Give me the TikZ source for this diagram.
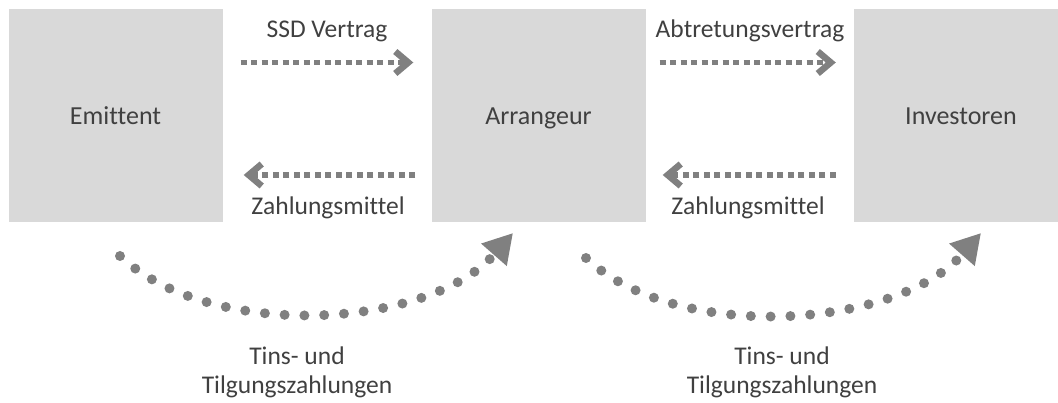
\documentclass[tikz,border=0pt]{standalone}
\usepackage{fontspec}
\setmainfont{Carlito}[Ligatures={CommonOff,RareOff}, Contextuals=AlternateOff]
\usetikzlibrary{arrows.meta,calc}
\definecolor{boxfill}{HTML}{D9D9D9}
\definecolor{txt}{HTML}{404040}
\definecolor{flow}{HTML}{808080}
\tikzset{
  party/.style={fill=boxfill, minimum width=214pt, minimum height=212.5pt,
    inner sep=0pt, text=txt, text height=24.5pt, text depth=6pt,
    font=\fontsize{26}{29}\selectfont},
  lbl/.style={text=txt, anchor=base, inner sep=0pt,
    font=\fontsize{25.5}{29}\selectfont},
  notes/.style={text=txt, align=center, inner sep=0pt,
    font=\fontsize{25.5}{29}\selectfont},
  contract/.style={draw=flow, line width=5.5pt, dash pattern=on 6pt off 4.5pt,
    -{Straight Barb[length=13pt, width=22pt, line width=6.5pt]}},
  payment/.style={draw=flow, line width=10pt, line cap=round,
    dash pattern=on 0pt off 19.8pt,
    -{Triangle[length=29pt, width=32pt]}}
}
\begin{document}
\begin{tikzpicture}[x=1pt, y=-1pt]
  \useasboundingbox (0,0) rectangle (1058,403);
  \clip (0,0) rectangle (1058,403);

  % parties
  \node[party] (e) at (115.5,115.75) {Emittent};
  \node[party] (a) at (538.5,115.75) {Arrangeur};
  \node[party] (i) at (961,115.75) {Investoren};

  % contracts (top) and means of payment (bottom)
  \draw[contract] ($(e.east)+(18,-53.25)$) -- ($(a.west)+(-18,-53.25)$);
  \draw[contract] ($(a.west)+(-16,59.25)$) -- ($(e.east)+(21,59.25)$);
  \draw[contract] ($(a.east)+(14,-53.25)$) -- ($(i.west)+(-18,-53.25)$);
  \draw[contract] ($(i.west)+(-18,59.25)$) -- ($(a.east)+(17,59.25)$);

  \node[lbl] (l1) at (327,38) {SSD Vertrag};
  \node[lbl] (l2) at (328,215) {Zahlungsmi{}t{}tel};
  \node[lbl] (l3) at (750,38) {Abtretungsvertrag};
  \node[lbl] (l4) at (748,215) {Zahlungsmi{}t{}tel};

  % interest and redemption flows
  \coordinate (s1) at (120,256);
  \coordinate (t1) at (513,233);
  \coordinate (s2) at (586,258);
  \coordinate (t2) at (981,233);
  \draw[payment] (s1) .. controls ($(s1)+(92,86)$) and ($(t1)+(-84,96)$) .. (t1);
  \draw[payment] (s2) .. controls ($(s2)+(92,86)$) and ($(t2)+(-84,96)$) .. (t2);

  \node[notes] (n1) at (297,372) {Tins- und\\Tilgungszahlungen};
  \node[notes] (n2) at (782,372) {Tins- und\\Tilgungszahlungen};
\end{tikzpicture}
\end{document}
